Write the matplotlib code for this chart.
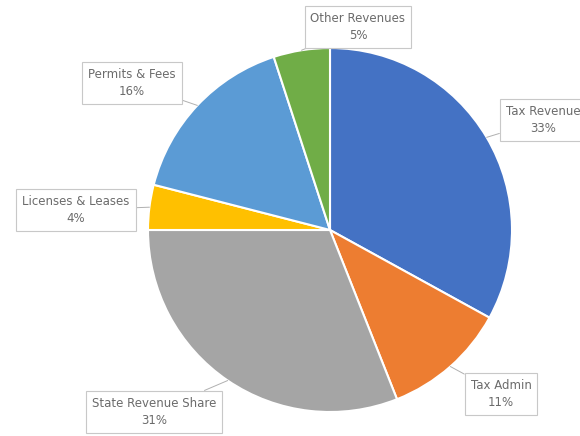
import matplotlib.pyplot as plt
import numpy as np

categories = ["Tax Revenue", "Tax Admin", "State Revenue Share",
              "Licenses & Leases", "Permits & Fees", "Other Revenues"]
shares = [33, 11, 31, 4, 16, 5]
colors = ["#4472C4", "#ED7D31", "#A5A5A5", "#FFC000", "#5B9BD5", "#70AD47"]

# label box centres in pixel coords (x, y from top)
label_pos = [(543, 120), (501, 394), (154, 412), (76, 210), (132, 83), (358, 27)]

W, H = 580, 436
cx, cy, r = 330, H - 230, 182

fig = plt.figure(figsize=(5.8, 4.36), dpi=100)
ax = fig.add_axes([0, 0, 1, 1])

ax.pie(shares, colors=colors, startangle=90, counterclock=False,
       center=(cx, cy), radius=r,
       wedgeprops=dict(edgecolor="white", linewidth=1.5))
ax.set_xlim(0, W)
ax.set_ylim(0, H)
ax.set_aspect("equal")
ax.axis("off")

total = sum(shares)
cum = 0
for name, val, (lx, ly) in zip(categories, shares, label_pos):
    mid = 90 - 360 * (cum + val / 2) / total
    cum += val
    px = cx + r * np.cos(np.radians(mid))
    py = cy + r * np.sin(np.radians(mid))
    ax.annotate(f"{name}\n{val}%", xy=(px, py), xytext=(lx, H - ly),
                ha="center", va="center", fontsize=8.5, color="#6b6b6b",
                linespacing=1.45,
                bbox=dict(boxstyle="square,pad=0.5", fc="white", ec="#C8C8C8", lw=0.8),
                arrowprops=dict(arrowstyle="-", color="#B0B0B0", lw=0.7,
                                shrinkA=0, shrinkB=0))

fig.savefig("out.png", dpi=100)
